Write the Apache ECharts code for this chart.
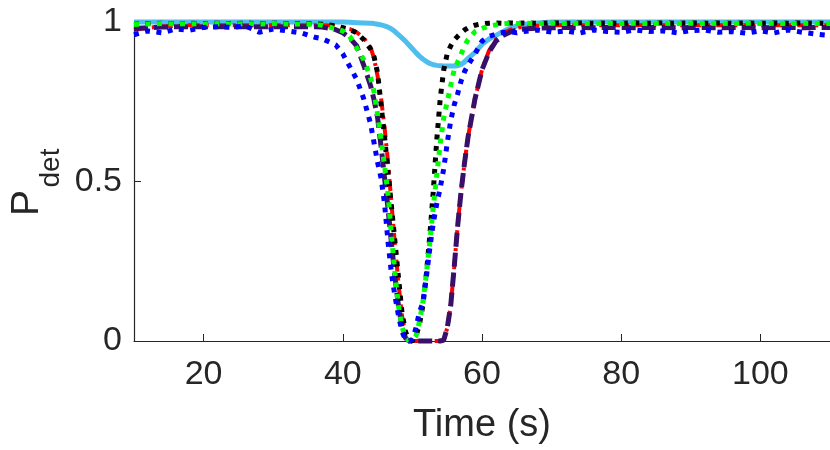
<!DOCTYPE html>
<html>
<head>
<meta charset="utf-8">
<script src="https://cdn.jsdelivr.net/npm/echarts@6.0.0/dist/echarts.min.js"></script>
<style>
html, body { margin: 0; padding: 0; background: #fff; }
#main { width: 830px; height: 450px; }
</style>
</head>
<body>
<div id="main"></div>
<script>
// shared time base (s)
var time = [10,12,14,16,18,20,22,24,26,28,30,32,34,36,
    37,38,39,40,41,42,43,
    44,44.5,45,45.5,46,46.5,47,47.5,48,48.5,49,49.5,50,50.5,51,51.5,52,52.5,53,53.5,54,54.5,55,55.5,56,56.5,57,57.5,58,
    59,60,61,62,63,64,65,66,
    68,70,72,74,76,78,80,82,84,86,88,90,92,94,96,98,100,102,104,106,108,110];

var lightBlue = [1,1,1,1,1,1,1,1,1,1,1,1,1,1,
    1,1,1,1,0.999,0.998,0.997,
    0.996,0.995,0.993,0.991,0.988,0.984,0.978,0.97,0.96,0.95,0.94,0.928,0.916,0.904,0.893,0.884,0.876,0.87,0.866,0.864,0.863,0.862,0.862,0.862,0.862,0.863,0.867,0.875,0.886,
    0.905,0.93,0.947,0.958,0.97,0.98,0.988,0.993,
    0.997,1,1,1,1,1,1,1,1,1,1,1,1,1,1,1,1,1,1,1,1,1];

var redDashDot = [0.975,0.982,0.986,0.988,0.99,0.99,0.99,0.99,0.99,0.99,0.99,0.99,0.99,0.99,
    0.99,0.989,0.987,0.983,0.978,0.968,0.95,
    0.92,0.885,0.83,0.76,0.67,0.56,0.43,0.3,0.18,0.08,0.02,0.002,0,0,0,0,0,0,0,0,0,0.003,0.04,0.11,0.23,0.36,0.47,0.56,0.64,
    0.76,0.85,0.91,0.945,0.965,0.975,0.982,0.985,
    0.988,0.99,0.99,0.99,0.99,0.99,0.99,0.99,0.99,0.99,0.99,0.99,0.99,0.99,0.99,0.99,0.99,0.99,0.99,0.99,0.99,0.99];

var purpleDash = [0.98,0.982,0.984,0.985,0.985,0.985,0.985,0.985,0.985,0.985,0.985,0.985,0.985,0.985,
    0.984,0.981,0.976,0.966,0.95,0.925,0.865,
    0.8,0.755,0.7,0.61,0.51,0.415,0.305,0.2,0.11,0.045,0.01,0,0,0,0,0,0,0,0,0,0,0.003,0.04,0.11,0.23,0.36,0.47,0.56,0.64,
    0.76,0.85,0.905,0.94,0.958,0.968,0.975,0.978,
    0.981,0.982,0.983,0.983,0.982,0.983,0.983,0.982,0.983,0.983,0.982,0.983,0.983,0.982,0.983,0.983,0.982,0.983,0.983,0.982,0.983,0.983];

var blackDot = [0.993,0.995,0.996,0.995,0.996,0.995,0.996,0.995,0.996,0.995,0.996,0.995,0.995,0.994,
    0.993,0.991,0.988,0.982,0.976,0.966,0.945,
    0.915,0.89,0.84,0.74,0.64,0.53,0.42,0.31,0.2,0.09,0.03,0.003,0,0.015,0.05,0.11,0.21,0.33,0.47,0.63,0.76,0.85,0.9,0.925,0.943,0.955,0.966,0.975,0.982,
    0.99,0.995,0.996,0.997,0.996,0.997,0.996,0.997,
    0.996,0.997,0.996,0.997,0.996,0.997,0.996,0.997,0.996,0.997,0.996,0.997,0.996,0.997,0.996,0.997,0.996,0.997,0.996,0.997,0.996,0.996];

var greenDot = [0.992,0.994,0.995,0.994,0.995,0.994,0.995,0.994,0.995,0.994,0.995,0.994,0.994,0.993,
    0.99,0.985,0.978,0.972,0.955,0.918,0.882,
    0.825,0.78,0.71,0.63,0.55,0.46,0.33,0.21,0.11,0.045,0.012,0.001,0,0.015,0.06,0.12,0.21,0.31,0.42,0.52,0.62,0.7,0.75,0.8,0.85,0.875,0.9,0.925,0.945,
    0.97,0.98,0.987,0.991,0.994,0.996,0.995,0.996,
    0.995,0.996,0.995,0.996,0.995,0.996,0.995,0.996,0.995,0.996,0.995,0.996,0.995,0.996,0.995,0.996,0.995,0.996,0.995,0.996,0.995,0.995];

var blueDot = [0.96,0.972,0.966,0.978,0.974,0.983,0.985,0.983,0.988,0.968,0.978,0.972,0.966,0.952,
    0.948,0.938,0.928,0.9,0.86,0.82,0.76,
    0.68,0.62,0.56,0.51,0.43,0.31,0.21,0.14,0.08,0.03,0.003,0,0.005,0.04,0.09,0.12,0.2,0.29,0.37,0.43,0.48,0.54,0.62,0.69,0.74,0.775,0.815,0.845,0.865,
    0.9,0.94,0.955,0.962,0.967,0.97,0.966,0.97,
    0.975,0.968,0.972,0.965,0.975,0.97,0.968,0.975,0.97,0.972,0.966,0.973,0.975,0.968,0.97,0.965,0.972,0.966,0.975,0.968,0.962,0.958];

var xTicks = [20, 40, 60, 80, 100];

function pairs(vals) {
    var out = [];
    for (var i = 0; i < time.length; i++) {
        out.push([time[i], vals[i]]);
    }
    return out;
}

var axisColor = '#262626';
var font = 'Liberation Sans, Arial, sans-serif';

var myChart = echarts.init(document.getElementById('main'));
var option = {
    animation: false,
    backgroundColor: '#fff',
    grid: {
        left: 134,
        right: 0,
        top: 22,
        bottom: 108
    },
    xAxis: {
        type: 'value',
        min: 10,
        max: 110,
        name: 'Time (s)',
        nameLocation: 'middle',
        nameGap: 66,
        nameTextStyle: { fontSize: 38, color: axisColor, fontFamily: font },
        axisLine: { onZero: false, lineStyle: { color: axisColor, width: 1.2 } },
        axisTick: { inside: true, length: 7, customValues: xTicks, lineStyle: { color: axisColor } },
        axisLabel: { customValues: xTicks, fontSize: 34, color: axisColor, fontFamily: font, margin: 17 },
        splitLine: { show: false }
    },
    yAxis: {
        type: 'value',
        min: 0,
        max: 1,
        interval: 0.5,
        axisLine: { show: true, lineStyle: { color: axisColor, width: 1.2 } },
        axisTick: { show: true, inside: true, length: 7, lineStyle: { color: axisColor } },
        axisLabel: { fontSize: 34, color: axisColor, fontFamily: font, margin: 12 },
        splitLine: { show: false }
    },
    graphic: [
        {
            type: 'text', x: 27, y: 203, rotation: Math.PI / 2,
            style: { text: 'P', font: '39px ' + font, fill: axisColor, textAlign: 'center', textVerticalAlign: 'middle' }
        },
        {
            type: 'text', x: 51, y: 168, rotation: Math.PI / 2,
            style: { text: 'det', font: '28px ' + font, fill: axisColor, textAlign: 'center', textVerticalAlign: 'middle' }
        }
    ],
    series: [
        {
            name: 'lightBlue', type: 'line', showSymbol: false, clip: false,
            lineStyle: { color: '#4DBEEE', width: 5 },
            data: pairs(lightBlue)
        },
        {
            name: 'red', type: 'line', showSymbol: false, clip: false,
            lineStyle: { color: '#FF0000', width: 4, type: [12, 6, 3, 6], cap: 'butt' },
            data: pairs(redDashDot)
        },
        {
            name: 'purple', type: 'line', showSymbol: false, clip: false,
            lineStyle: { color: '#38106A', width: 5, type: [14, 6], cap: 'butt' },
            data: pairs(purpleDash)
        },
        {
            name: 'black', type: 'line', showSymbol: false, clip: false,
            lineStyle: { color: '#000000', width: 5, type: [5, 6.5], cap: 'butt' },
            data: pairs(blackDot)
        },
        {
            name: 'green', type: 'line', showSymbol: false, clip: false,
            lineStyle: { color: '#00FF00', width: 5, type: [5, 6.5], cap: 'butt' },
            data: pairs(greenDot)
        },
        {
            name: 'blue', type: 'line', showSymbol: false, clip: false,
            lineStyle: { color: '#0000FF', width: 5, type: [5, 6.5], cap: 'butt' },
            data: pairs(blueDot)
        }
    ]
};
myChart.setOption(option);
</script>
</body>
</html>
